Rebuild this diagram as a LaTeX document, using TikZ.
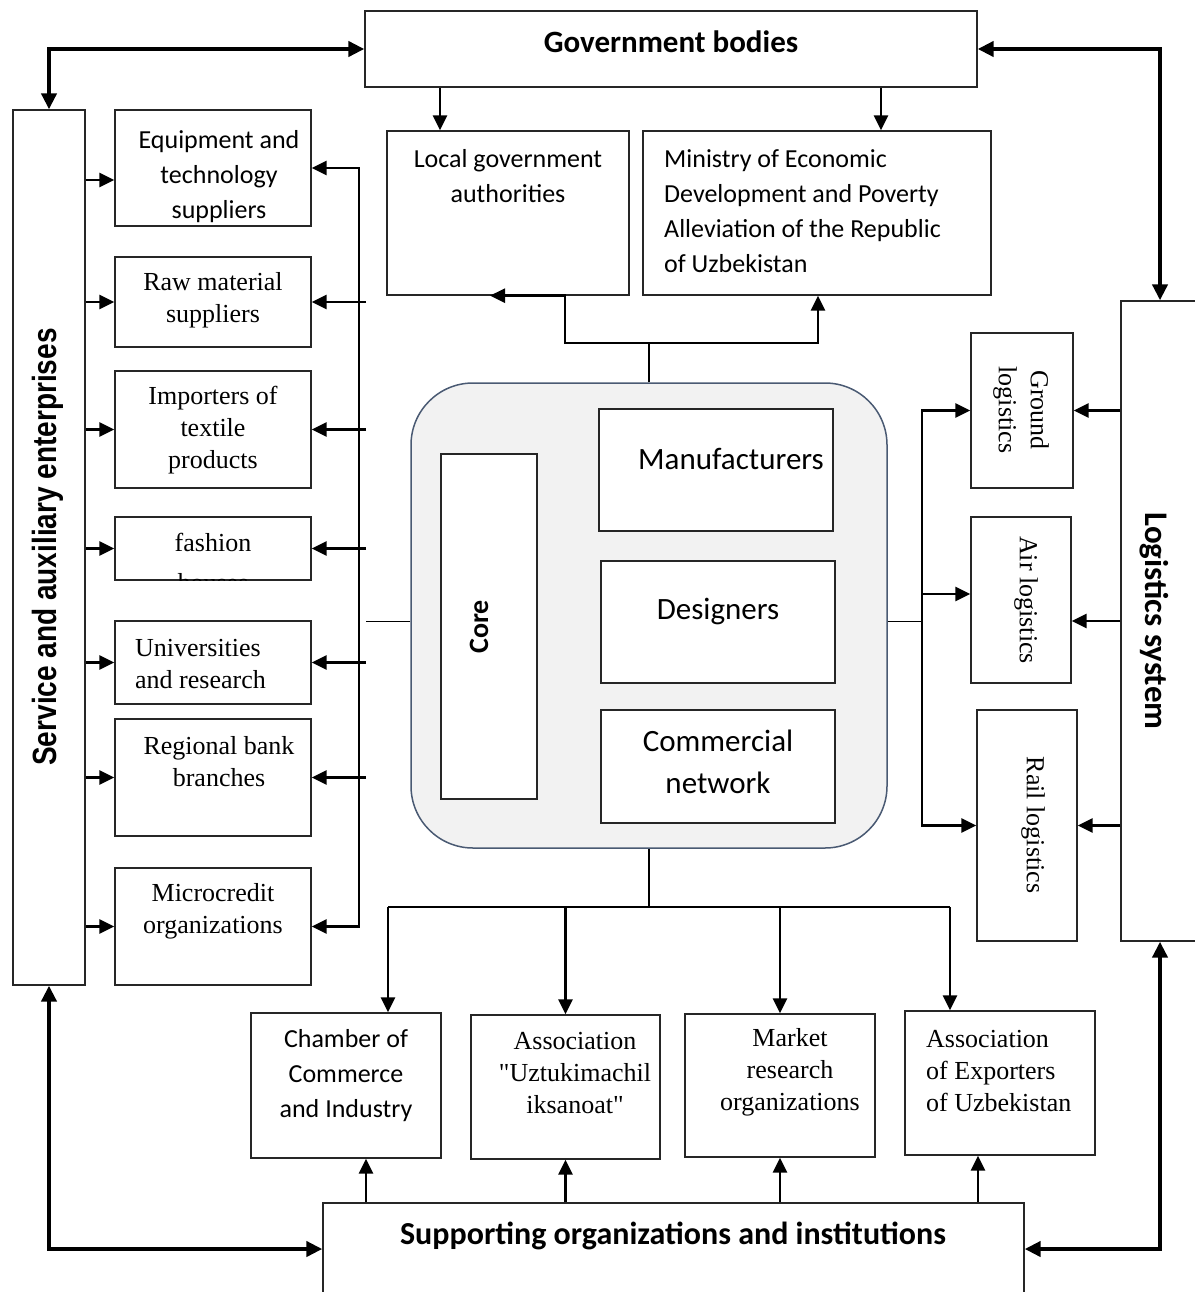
\documentclass[tikz,border=0pt]{standalone}
\usepackage{fontspec}
\setmainfont{Liberation Serif}
\newfontfamily\calfont{Carlito}
\newfontfamily\arialfont{Liberation Sans}
\usetikzlibrary{arrows.meta,calc}
\definecolor{corebd}{HTML}{4A5A73}
\definecolor{corefill}{HTML}{F2F2F2}
\newcommand\strq{{\addfontfeatures{Ligatures=TeXOff}\symbol{34}}}
\tikzset{
  pbox/.style={draw=black!85, line width=1.3pt, fill=white, rectangle, inner sep=0pt},
  txt/.style={inner sep=0pt, align=center},
  cal/.style={font=\calfont\fontsize{26}{35}\selectfont},
  calbig/.style={font=\calfont\fontsize{31}{42}\selectfont},
  calbold/.style={font=\calfont\bfseries\fontsize{31}{36}\selectfont},
  tnr/.style={font=\fontsize{26}{32}\selectfont},
  big/.style={line width=4pt, >={Triangle[length=16pt,width=15pt]}},
  med/.style={line width=2.6pt, >={Triangle[length=15pt,width=14pt]}},
  thinl/.style={line width=1.2pt}
}
\newcommand\pbx[5]{\node[pbox, minimum width={#4pt-#2pt}, minimum height={#5pt-#3pt}] (#1) at ({(#2+#4)/2},{(#3+#5)/2}) {};}
\begin{document}
\begin{tikzpicture}[x=1pt,y=-1pt]
\useasboundingbox (0,0) rectangle (1194,1292);
% boxes
\pbx{gov}{365}{11}{977}{87}
\pbx{local}{387}{131}{629}{295}
\pbx{min}{643}{131}{991}{295}
\pbx{svc}{13}{110}{85}{985}
\pbx{eq}{115}{110}{311}{226}
\pbx{raw}{115}{257}{311}{347}
\pbx{imp}{115}{371}{311}{488}
\pbx{fas}{115}{517}{311}{580}
\pbx{uni}{115}{621}{311}{704}
\pbx{bank}{115}{719}{311}{836}
\pbx{micro}{115}{868}{311}{985}
\node[draw=corebd, fill=corefill, line width=1.5pt, rounded corners=62pt, minimum width=476pt, minimum height=465pt, inner sep=0pt] (core) at (649,615.5) {};
\pbx{corebar}{441}{454}{537}{799}
\pbx{manu}{599}{409}{833}{531}
\pbx{des}{601}{561}{835}{683}
\pbx{comm}{601}{710}{835}{823}
\pbx{ground}{971}{333}{1073}{488}
\pbx{air}{971}{517}{1071}{683}
\pbx{rail}{977}{710}{1077}{941}
\pbx{logi}{1121}{301}{1199}{941}
\pbx{cham}{251}{1013}{441}{1158}
\pbx{uzt}{471}{1015}{660}{1159}
\pbx{mkt}{685}{1014}{875}{1157}
\pbx{exp}{905}{1011}{1095}{1155}
\pbx{sup}{323}{1203}{1024}{1295}
% texts
\node[txt, calbold] (govt) at (671,42) {Government bodies};
\node[txt, cal] (localt) at (508,176) {Local government\\authorities};
\node[txt, cal, align=left, anchor=west] (mint) at (664,211) {Ministry of Economic\\Development and Poverty\\Alleviation of the Republic\\of Uzbekistan};
\node[txt, rotate=90, font=\arialfont\bfseries\fontsize{28}{30}\selectfont] (svct) at (48,547) {\scalebox{1}[1.2]{Service and auxiliary enterprises}};
\begin{scope}
\clip (eq.north west) rectangle (eq.south east);
\node[txt, cal] (eqt) at (219,177) {Equipment and\\technology\\suppliers};
\end{scope}
\node[txt, tnr] (rawt) at (213,300) {Raw material\\suppliers};
\node[txt, tnr] (impt) at (213,430) {Importers of\\textile\\products};
\begin{scope}
\clip (fas.north west) rectangle (fas.south east);
\node[txt, tnr, anchor=north] (fast) at (213,533) {fashion\\[8pt]houses};
\end{scope}
\node[txt, tnr, align=left, anchor=west] (unit) at (135,664) {Universities\\and research};
\node[txt, tnr] (bankt) at (219,762) {Regional bank\\branches};
\node[txt, tnr] (microt) at (213,911) {Microcredit\\organizations};
\node[txt, rotate=90, font=\calfont\bfseries\fontsize{28}{34}\selectfont] (coret) at (479,627) {Core};
\node[txt, calbig] (manut) at (731,459) {Manufacturers};
\node[txt, calbig] (dest) at (718,611) {Designers};
\node[txt, calbig] (commt) at (718,762) {Commercial\\network};
\node[txt, tnr, rotate=-90] (groundt) at (1021,410) {Ground\\logistics};
\node[txt, tnr, rotate=-90] (airt) at (1026,600) {Air logistics};
\node[txt, tnr, rotate=-90] (railt) at (1033,825) {Rail logistics};
\node[txt, rotate=-90, font=\calfont\bfseries\fontsize{33}{38}\selectfont] (logit) at (1154,621) {Logistics system};
\node[txt, cal] (chamt) at (346,1076) {Chamber of\\Commerce\\and Industry};
\node[txt, tnr] (uztt) at (575,1073) {Association\\\strq Uztukimachil\\iksanoat\strq};
\node[txt, tnr] (mktt) at (790,1072) {Market\\research\\organizations};
\node[txt, tnr, align=left, anchor=west] (expt) at (926,1071) {Association\\of Exporters\\of Uzbekistan};
\node[txt, font=\calfont\bfseries\fontsize{32}{36}\selectfont] (supt) at (673,1236) {Supporting organizations and institutions};
% helper coordinates
\coordinate (xa) at (440,0);
\coordinate (xb) at (881,0);
\coordinate (xc) at (490,0);
\coordinate (tb) at (565,343);
\coordinate (xd) at (818,0);
\coordinate (lb) at (359,0);
\coordinate (lbr) at (366,0);
\coordinate (rb) at (922,0);
\coordinate (bb) at (650,907);
\coordinate (ca) at (388,907);
\coordinate (ea) at (950,907);
\coordinate (u1) at (366,0);
\coordinate (u4) at (978,0);
% top connectors
\draw[big,<->] (gov.west) -| (svc.north);
\draw[big,<->] (gov.east) -| (logi.north);
\draw[med,->] (gov.south -| xa) -- (local.north -| xa);
\draw[med,->] (gov.south -| xb) -- (min.north -| xb);
\draw[thinl] (core.north) -- (core.north |- tb);
\draw[med,<->] (local.south -| xc) -| (tb) -| (min.south -| xd);
% left connectors
\draw[med,->] ($(svc.east |- eq.west)+(0,12)$) -- ($(eq.west)+(0,12)$);
\foreach \n in {raw,imp,fas,uni,bank,micro} \draw[med,->] (svc.east |- \n.west) -- (\n.west);
\draw[med,<->] (eq.east) -- (eq.east -| lb) -- (micro.east -| lb) -- (micro.east);
\foreach \n in {raw,imp,fas,uni,bank} \draw[med,->] (\n.east -| lbr) -- (\n.east);
\draw[thinl] ($(core.west)+(0,6)$) -- ($(core.west -| lbr)+(0,6)$);
% right connectors
\draw[thinl] ($(core.east)+(0,6)$) -- ($(core.east -| rb)+(0,6)$);
\draw[med,<->] (ground.west) -- (ground.west -| rb) -- (rail.west -| rb) -- (rail.west);
\draw[med,->] ($(air.west -| rb)+(0,-6)$) -- ($(air.west)+(0,-6)$);
\draw[med,->] (logi.west |- ground.east) -- (ground.east);
\draw[med,->] ($(logi.west |- air.east)+(0,21)$) -- ($(air.east)+(0,21)$);
\draw[med,->] (logi.west |- rail.east) -- (rail.east);
% bottom connectors
\draw[thinl] (core.south) -- (core.south |- bb);
\draw[thinl] (ca) -- (ea);
\draw[med,->] (ca) -- (cham.north -| ca);
\draw[med,->] (uzt.north |- bb) -- (uzt.north);
\draw[med,->] (mkt.north |- bb) -- (mkt.north);
\draw[med,->] (ea) -- (exp.north -| ea);
\draw[med,->] (sup.north -| u1) -- (cham.south -| u1);
\draw[med,->] (sup.north -| uzt.south) -- (uzt.south);
\draw[med,->] (sup.north -| mkt.south) -- (mkt.south);
\draw[med,->] (sup.north -| u4) -- (exp.south -| u4);
\draw[big,<->] (svc.south) |- (sup.west);
\draw[big,<->] (logi.south) |- (sup.east);
\end{tikzpicture}
\end{document}
